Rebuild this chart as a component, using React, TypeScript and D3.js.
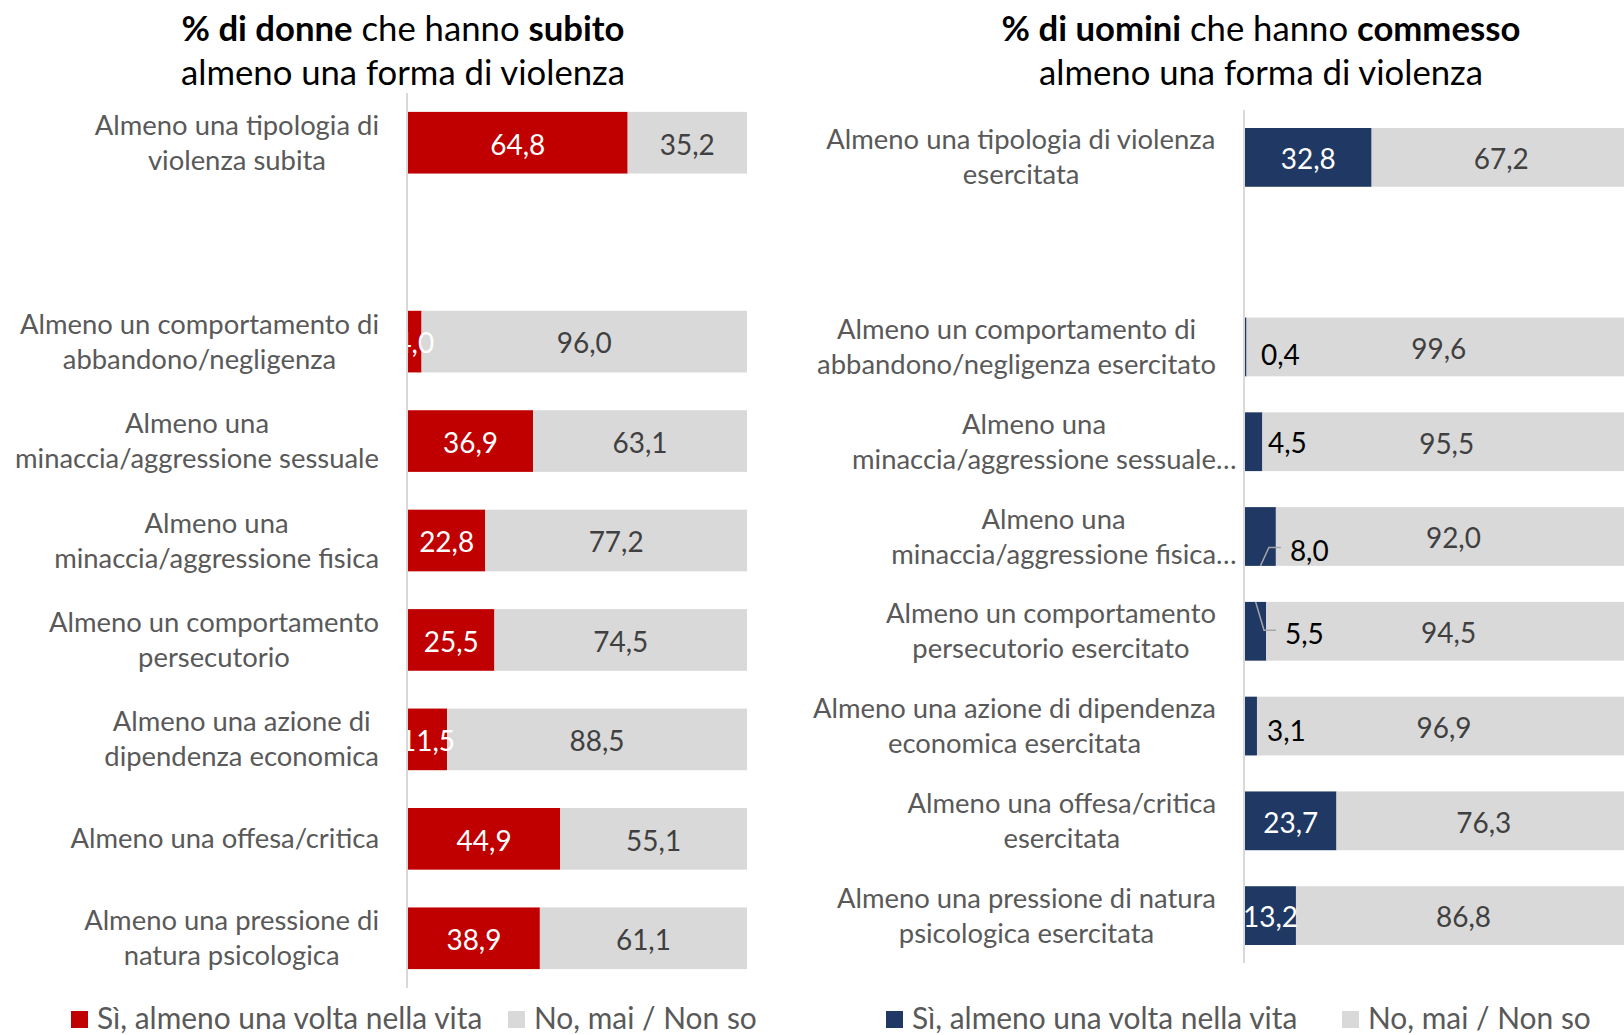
import React from "react";
import * as d3 from "d3";

// ---------- DATA ----------
const womenLabels: string[][] = [
  ["Almeno una tipologia di", "violenza subita"],
  [],
  ["Almeno un comportamento di", "abbandono/negligenza"],
  ["Almeno una", "minaccia/aggressione sessuale"],
  ["Almeno una", "minaccia/aggressione fisica"],
  ["Almeno un comportamento", "persecutorio"],
  ["Almeno una azione di", "dipendenza economica"],
  ["Almeno una offesa/critica"],
  ["Almeno una pressione di", "natura psicologica"],
];
const womenYes: (number | null)[] = [64.8, null, 4.0, 36.9, 22.8, 25.5, 11.5, 44.9, 38.9];
const womenNo: (number | null)[] = [35.2, null, 96.0, 63.1, 77.2, 74.5, 88.5, 55.1, 61.1];

const menLabels: string[][] = [
  ["Almeno una tipologia di violenza", "esercitata"],
  [],
  ["Almeno un comportamento di", "abbandono/negligenza esercitato"],
  ["Almeno una", "minaccia/aggressione sessuale…"],
  ["Almeno una", "minaccia/aggressione fisica…"],
  ["Almeno un comportamento", "persecutorio esercitato"],
  ["Almeno una azione di dipendenza", "economica esercitata"],
  ["Almeno una offesa/critica", "esercitata"],
  ["Almeno una pressione di natura", "psicologica esercitata"],
];
const menYes: (number | null)[] = [32.8, null, 0.4, 4.5, 8.0, 5.5, 3.1, 23.7, 13.2];
const menNo: (number | null)[] = [67.2, null, 99.6, 95.5, 92.0, 94.5, 96.9, 76.3, 86.8];

const legendYes = "Sì, almeno una volta nella vita";
const legendNo = "No, mai / Non so";

// label placement tweaks for small "Sì" values in the men panel (style only)
type Nudge = { dx: number; dy: number; leader?: "top" | "bottom" } | null;
const menYesNudge: Nudge[] = [
  null, null,
  { dx: 14.5, dy: 8.5 },
  { dx: 5.6, dy: 1.5 },
  { dx: 14, dy: 15, leader: "bottom" },
  { dx: 18.8, dy: 3, leader: "top" },
  { dx: 10, dy: 5 },
  null, null,
];

// ---------- STYLE ----------
const FONT = "Lato, 'Open Sans', sans-serif";
const RED = "#C00000";
const NAVY = "#1F3864";
const GREY = "#D9D9D9";
const LABEL_COLOR = "#595959";
const VALUE_DARK = "#404040";

const ctx = typeof document !== "undefined" ? document.createElement("canvas").getContext("2d") : null;
function textW(s: string, size: number, weight = 400): number {
  if (!ctx) return s.length * size * 0.5;
  ctx.font = `${weight} ${size}px Lato`;
  return ctx.measureText(s).width;
}
function fit(s: string, target: number, weight = 400): number {
  return (100 * target) / textW(s, 100, weight);
}

const LABEL_SIZE = fit("minaccia/aggressione sessuale", 364);
const VALUE_SIZE = fit("64,8", 55);
const TITLE_SIZE = fit("almeno una forma di violenza", 445);
const LEGEND_SIZE = fit(legendYes, 387);
const LINE_GAP = 35;
const VALUE_BASE = VALUE_SIZE * 0.35 + 2;

const fmt = (v: number) => d3.format(".1f")(v).replace(".", ",");

type PanelProps = {
  labels: string[][];
  yes: (number | null)[];
  no: (number | null)[];
  color: string;
  x0: number;
  pxPer100: number;
  yRange: [number, number];
  labelRight: number;
  nudges?: Nudge[];
  titleBold1: string;
  titleMid: string;
  titleBold2: string;
  titleCx: number;
  legendX: number;
  legendGreyX: number;
};

function Panel(p: PanelProps) {
  const keys = p.labels.map((_, i) => String(i));
  const y = d3.scaleBand<string>().domain(keys).range(p.yRange).paddingInner(0.38).paddingOuter(0.19);
  const x = d3.scaleLinear().domain([0, 100]).range([p.x0, p.x0 + p.pxPer100]);
  const bw = y.bandwidth();

  return (
    <g>
      {/* title */}
      <text x={p.titleCx} y={41} textAnchor="middle" fontSize={TITLE_SIZE} fill="#000">
        <tspan fontWeight={700}>{p.titleBold1}</tspan>
        <tspan>{p.titleMid}</tspan>
        <tspan fontWeight={700}>{p.titleBold2}</tspan>
      </text>
      <text x={p.titleCx} y={85} textAnchor="middle" fontSize={TITLE_SIZE} fill="#000">
        almeno una forma di violenza
      </text>

      {/* bars */}
      {keys.map((k, i) => {
        const ys = p.yes[i];
        const nv = p.no[i];
        if (ys == null || nv == null) return null;
        const top = y(k)!;
        const cy = top + bw / 2;
        const xa = x(0), xb = x(ys), xc = x(ys + nv);
        const nud = p.nudges ? p.nudges[i] : null;
        let yesLabel;
        if (!nud) {
          yesLabel = (
            <text x={(xa + xb) / 2} y={cy + VALUE_BASE} textAnchor="middle" fontSize={VALUE_SIZE} fill="#fff">
              {fmt(ys)}
            </text>
          );
        } else {
          const lx = xb + nud.dx;
          const ly = cy + nud.dy;
          yesLabel = (
            <g>
              {nud.leader && (
                <polyline
                  points={[
                    [(xa + xb) / 2, nud.leader === "bottom" ? top + bw : top],
                    [lx - 21, ly - 4],
                    [lx - 9, ly - 4],
                  ].map((q) => q.join(",")).join(" ")}
                  fill="none"
                  stroke="#A6A6A6"
                  strokeWidth={1.5}
                />
              )}
              <text x={lx} y={ly + VALUE_SIZE * 0.35} textAnchor="start" fontSize={VALUE_SIZE} fill="#000">
                {fmt(ys)}
              </text>
            </g>
          );
        }
        return (
          <g key={k}>
            <rect x={xa} y={top} width={xb - xa} height={bw} fill={p.color} />
            <rect x={xb} y={top} width={xc - xb} height={bw} fill={GREY} />
            {yesLabel}
            <text x={(xb + xc) / 2} y={cy + VALUE_BASE} textAnchor="middle" fontSize={VALUE_SIZE} fill={VALUE_DARK}>
              {fmt(nv)}
            </text>
          </g>
        );
      })}

      {/* axis line */}
      <line x1={p.x0 - 1} x2={p.x0 - 1} y1={p.yRange[0]} y2={p.yRange[1]} stroke={GREY} strokeWidth={2} />

      {/* category labels */}
      {keys.map((k, i) => {
        const lines = p.labels[i];
        if (!lines.length) return null;
        const cy = y(k)! + bw / 2;
        const widths = lines.map((l) => textW(l.replace(/…$/, ""), LABEL_SIZE));
        const W = Math.max(...widths);
        const c = p.labelRight - W / 2;
        const n = lines.length;
        return (
          <g key={"l" + k}>
            {lines.map((l, j) => (
              <text
                key={j}
                x={c - widths[j] / 2}
                y={cy + (j - (n - 1) / 2) * LINE_GAP + LABEL_SIZE * 0.35}
                fontSize={LABEL_SIZE}
                fill={LABEL_COLOR}
              >
                {l}
              </text>
            ))}
          </g>
        );
      })}

      {/* legend */}
      <rect x={p.legendX} y={1011} width={17} height={17} fill={p.color} />
      <text x={p.legendX + 26} y={1019 + LEGEND_SIZE * 0.35} fontSize={LEGEND_SIZE} fill={LABEL_COLOR}>
        {legendYes}
      </text>
      <rect x={p.legendGreyX} y={1011} width={17} height={17} fill={GREY} />
      <text x={p.legendGreyX + 26} y={1019 + LEGEND_SIZE * 0.35} fontSize={LEGEND_SIZE} fill={LABEL_COLOR}>
        {legendNo}
      </text>
    </g>
  );
}

export default function App() {
  return (
    <svg
      width={1624}
      height={1035}
      style={{ position: "absolute", left: 0, top: 0, background: "#fff", fontFamily: FONT }}
    >
      <rect width={1624} height={1035} fill="#fff" />
      <Panel
        labels={womenLabels}
        yes={womenYes}
        no={womenNo}
        color={RED}
        x0={408}
        pxPer100={339}
        yRange={[93, 988]}
        labelRight={379}
        titleBold1="% di donne"
        titleMid=" che hanno "
        titleBold2="subito"
        titleCx={403}
        legendX={71}
        legendGreyX={508}
      />
      <Panel
        labels={menLabels}
        yes={menYes}
        no={menNo}
        color={NAVY}
        x0={1245}
        pxPer100={386}
        yRange={[110, 963]}
        labelRight={1216}
        nudges={menYesNudge}
        titleBold1="% di uomini"
        titleMid=" che hanno "
        titleBold2="commesso"
        titleCx={1261}
        legendX={886}
        legendGreyX={1342}
      />
    </svg>
  );
}
